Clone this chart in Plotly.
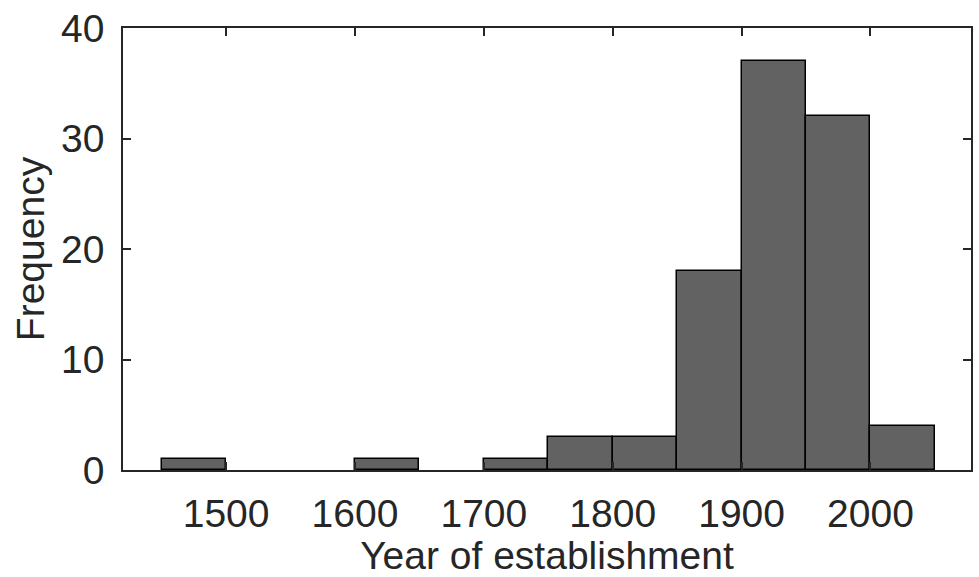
import plotly.graph_objects as go

# Histogram bins (left edges, width 50 years) and counts
bin_left = [1450, 1500, 1550, 1600, 1650, 1700, 1750, 1800, 1850, 1900, 1950, 2000]
counts = [1, 0, 0, 1, 0, 1, 3, 3, 18, 37, 32, 4]
bin_width = 50
x_ticks = [1500, 1600, 1700, 1800, 1900, 2000]
y_ticks = [0, 10, 20, 30, 40]

# empty bins are not drawn (no outline at zero)
centers = [b + bin_width / 2 for b, c in zip(bin_left, counts) if c > 0]
vals = [c for c in counts if c > 0]

fig = go.Figure()
fig.add_trace(go.Bar(
    x=centers, y=vals, width=[bin_width] * len(vals),
    marker=dict(color="#626262", line=dict(color="#000000", width=1.5)),
    showlegend=False,
))

txt = "#262626"
fig.update_layout(
    width=979, height=577,
    margin=dict(l=123, r=6, t=28, b=107),
    paper_bgcolor="white", plot_bgcolor="white",
    font=dict(family="Liberation Sans, Arial, sans-serif", color=txt, size=39),
    bargap=0,
    xaxis=dict(
        range=[1420, 2078], tickvals=x_ticks, ticktext=[str(v) for v in x_ticks],
        showline=True, linecolor=txt, linewidth=1.5, mirror="ticks",
        ticks="inside", ticklen=8, tickcolor=txt, tickwidth=1.5,
        showgrid=False, zeroline=False, ticklabelstandoff=8,
        tickfont=dict(size=39),
        title=dict(text="Year of establishment", font=dict(size=39), standoff=2),
    ),
    yaxis=dict(
        range=[0, 40], tickvals=y_ticks,
        showline=True, linecolor=txt, linewidth=1.5, mirror="ticks",
        ticks="inside", ticklen=8, tickcolor=txt, tickwidth=1.5,
        showgrid=False, zeroline=False, ticklabelstandoff=9,
        tickfont=dict(size=39),
        title=dict(text="Frequency", font=dict(size=39), standoff=4),
    ),
)

fig.write_html("out.html")
